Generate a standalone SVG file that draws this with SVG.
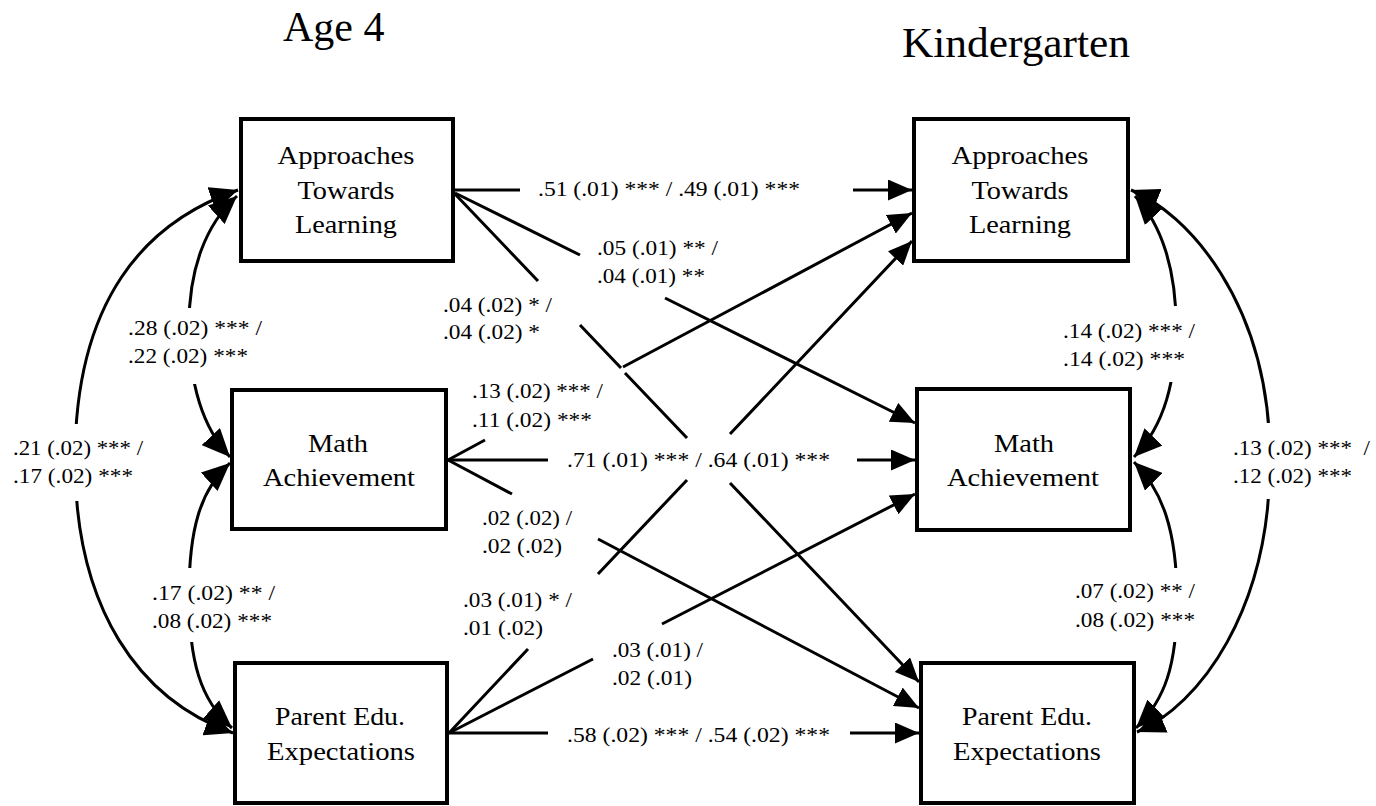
<svg xmlns="http://www.w3.org/2000/svg" width="1376" height="806" viewBox="0 0 1376 806">
  <style>
    .box { fill: #fff; stroke: #000; stroke-width: 4; }
    .name { font-family: "Liberation Serif", "Times New Roman", serif; font-size: 26px; fill: #000; text-anchor: middle; }
    .title { font-family: "Liberation Serif", "Times New Roman", serif; fill: #000; }
    .lbl { font-family: "Liberation Serif", "Times New Roman", serif; font-size: 21.5px; fill: #000; white-space: pre; }
    .path { fill: none; stroke: #000; stroke-width: 3; }
    .cov { fill: none; stroke: #000; stroke-width: 3; }
    .bg { fill: #fff; stroke: none; }
  </style>
  <defs>
    <marker id="head" markerUnits="userSpaceOnUse" viewBox="0 0 24 21" refX="24" refY="10.5" markerWidth="24" markerHeight="21" orient="auto">
      <path d="M0,0 L24,10.5 L0,21 Z" fill="#000"/>
    </marker>
    <marker id="headBig" markerUnits="userSpaceOnUse" viewBox="0 0 28 25" refX="28" refY="12.5" markerWidth="28" markerHeight="25" orient="auto-start-reverse">
      <path d="M0,0 L28,12.5 L0,25 Z" fill="#000"/>
    </marker>
  </defs>

  <rect width="1376" height="806" fill="#fff"/>

  <!-- column headings -->
  <text class="title" x="283" y="41" font-size="42">Age 4</text>
  <text class="title" x="902" y="57" font-size="43" textLength="228" lengthAdjust="spacingAndGlyphs">Kindergarten</text>

  <!-- connectors: regression paths (with label gaps) and covariance arcs -->
  <g id="connectors">
    <!-- Age 4 -> Kindergarten paths -->
    <path class="path" d="M455,190 L520,190 M853,190 L912,190" marker-end="url(#head)"/>
    <path class="path" d="M455,193 L580,255 M665,298 L915,423" marker-end="url(#head)"/>
    <path class="path" d="M455,194 L538,281 M580,325 L621,368 M625,373 L687,438 M730,483 L919,682" marker-end="url(#head)"/>
    <path class="path" d="M448,460 L485,440 M623,367 L912,213" marker-end="url(#head)"/>
    <path class="path" d="M448,460 L548,460 M857,460 L915,460" marker-end="url(#head)"/>
    <path class="path" d="M448,460 L512,494 M598,539 L919,708" marker-end="url(#head)"/>
    <path class="path" d="M449,733 L528,649 M598,574 L687,480 M730,434 L912,241" marker-end="url(#head)"/>
    <path class="path" d="M449,733 L593,659 M662,624 L915,494" marker-end="url(#head)"/>
    <path class="path" d="M449,733 L548,733 M850,733 L919,733" marker-end="url(#head)"/>

    <!-- within-wave covariances -->
    <path class="cov" d="M237,196 C205,225 189,270 189,325 C189,380 200,425 230,457" marker-start="url(#headBig)" marker-end="url(#headBig)"/>
    <path class="cov" d="M238,190 C145,222 75,300 75,460 C75,610 140,700 233,733" marker-start="url(#headBig)" marker-end="url(#headBig)"/>
    <path class="cov" d="M230,463 C200,490 189,530 189,595 C189,660 200,700 232,728" marker-start="url(#headBig)" marker-end="url(#headBig)"/>
    <path class="cov" d="M1135,196 C1162,225 1176,270 1176,325 C1176,380 1165,425 1134,457" marker-start="url(#headBig)" marker-end="url(#headBig)"/>
    <path class="cov" d="M1131,190 C1185,212 1270,300 1270,460 C1270,610 1200,705 1137,732" marker-start="url(#headBig)" marker-end="url(#headBig)"/>
    <path class="cov" d="M1134,462 C1162,490 1177,530 1177,600 C1177,665 1165,700 1136,728" marker-start="url(#headBig)" marker-end="url(#headBig)"/>
  </g>

  <!-- coefficient labels -->
  <g id="labels">
    <text class="lbl" x="538" y="196" textLength="262" lengthAdjust="spacingAndGlyphs">.51 (.01) *** / .49 (.01) ***</text>
    <text class="lbl" x="597" y="255" textLength="121" lengthAdjust="spacingAndGlyphs">.05 (.01) ** /</text>
    <text class="lbl" x="597" y="283" textLength="108" lengthAdjust="spacingAndGlyphs">.04 (.01) **</text>
    <text class="lbl" x="443" y="312" textLength="109" lengthAdjust="spacingAndGlyphs">.04 (.02) * /</text>
    <text class="lbl" x="443" y="339" textLength="97" lengthAdjust="spacingAndGlyphs">.04 (.02) *</text>
    <text class="lbl" x="472" y="398" textLength="131" lengthAdjust="spacingAndGlyphs">.13 (.02) *** /</text>
    <text class="lbl" x="472" y="427" textLength="120" lengthAdjust="spacingAndGlyphs">.11 (.02) ***</text>
    <text class="lbl" x="567" y="467" textLength="263" lengthAdjust="spacingAndGlyphs">.71 (.01) *** / .64 (.01) ***</text>
    <text class="lbl" x="482" y="525" textLength="90" lengthAdjust="spacingAndGlyphs">.02 (.02) /</text>
    <text class="lbl" x="482" y="553" textLength="80" lengthAdjust="spacingAndGlyphs">.02 (.02)</text>
    <text class="lbl" x="463" y="607" textLength="109" lengthAdjust="spacingAndGlyphs">.03 (.01) * /</text>
    <text class="lbl" x="463" y="635" textLength="80" lengthAdjust="spacingAndGlyphs">.01 (.02)</text>
    <text class="lbl" x="612" y="657" textLength="91" lengthAdjust="spacingAndGlyphs">.03 (.01) /</text>
    <text class="lbl" x="612" y="685" textLength="80" lengthAdjust="spacingAndGlyphs">.02 (.01)</text>
    <text class="lbl" x="567" y="742" textLength="263" lengthAdjust="spacingAndGlyphs">.58 (.02) *** / .54 (.02) ***</text>

    <rect class="bg" x="124" y="308" width="142" height="76"/>
    <text class="lbl" x="128" y="335" textLength="134" lengthAdjust="spacingAndGlyphs">.28 (.02) *** /</text>
    <text class="lbl" x="128" y="363" textLength="120" lengthAdjust="spacingAndGlyphs">.22 (.02) ***</text>

    <rect class="bg" x="9" y="424" width="138" height="77"/>
    <text class="lbl" x="13" y="455" textLength="130" lengthAdjust="spacingAndGlyphs">.21 (.02) *** /</text>
    <text class="lbl" x="13" y="483" textLength="120" lengthAdjust="spacingAndGlyphs">.17 (.02) ***</text>

    <rect class="bg" x="148" y="568" width="131" height="74"/>
    <text class="lbl" x="152" y="600" textLength="123" lengthAdjust="spacingAndGlyphs">.17 (.02) ** /</text>
    <text class="lbl" x="152" y="628" textLength="120" lengthAdjust="spacingAndGlyphs">.08 (.02) ***</text>

    <rect class="bg" x="1059" y="306" width="140" height="76"/>
    <text class="lbl" x="1063" y="338" textLength="132" lengthAdjust="spacingAndGlyphs">.14 (.02) *** /</text>
    <text class="lbl" x="1063" y="366" textLength="122" lengthAdjust="spacingAndGlyphs">.14 (.02) ***</text>

    <rect class="bg" x="1229" y="423" width="144" height="76"/>
    <text class="lbl" x="1233" y="455" textLength="137" lengthAdjust="spacingAndGlyphs">.13 (.02) ***  /</text>
    <text class="lbl" x="1233" y="483" textLength="119" lengthAdjust="spacingAndGlyphs">.12 (.02) ***</text>

    <rect class="bg" x="1071" y="568" width="128" height="74"/>
    <text class="lbl" x="1075" y="598" textLength="120" lengthAdjust="spacingAndGlyphs">.07 (.02) ** /</text>
    <text class="lbl" x="1075" y="627" textLength="120" lengthAdjust="spacingAndGlyphs">.08 (.02) ***</text>
  </g>

  <!-- Age 4 nodes -->
  <g id="atl-age4">
    <rect class="box" x="241" y="119" width="212" height="142"/>
    <text class="name" x="346" y="164" textLength="137" lengthAdjust="spacingAndGlyphs">Approaches</text>
    <text class="name" x="346" y="199" textLength="97" lengthAdjust="spacingAndGlyphs">Towards</text>
    <text class="name" x="346" y="233" textLength="102" lengthAdjust="spacingAndGlyphs">Learning</text>
  </g>
  <g id="math-age4">
    <rect class="box" x="232" y="390" width="214" height="139"/>
    <text class="name" x="338" y="452" textLength="60" lengthAdjust="spacingAndGlyphs">Math</text>
    <text class="name" x="339" y="486" textLength="152" lengthAdjust="spacingAndGlyphs">Achievement</text>
  </g>
  <g id="pee-age4">
    <rect class="box" x="235" y="663" width="212" height="140"/>
    <text class="name" x="340" y="725" textLength="130" lengthAdjust="spacingAndGlyphs">Parent Edu.</text>
    <text class="name" x="341" y="760" textLength="148" lengthAdjust="spacingAndGlyphs">Expectations</text>
  </g>

  <!-- Kindergarten nodes -->
  <g id="atl-k">
    <rect class="box" x="914" y="119" width="214" height="142"/>
    <text class="name" x="1020" y="164" textLength="137" lengthAdjust="spacingAndGlyphs">Approaches</text>
    <text class="name" x="1020" y="199" textLength="97" lengthAdjust="spacingAndGlyphs">Towards</text>
    <text class="name" x="1020" y="233" textLength="102" lengthAdjust="spacingAndGlyphs">Learning</text>
  </g>
  <g id="math-k">
    <rect class="box" x="917" y="389" width="213" height="141"/>
    <text class="name" x="1024" y="452" textLength="60" lengthAdjust="spacingAndGlyphs">Math</text>
    <text class="name" x="1023" y="486" textLength="152" lengthAdjust="spacingAndGlyphs">Achievement</text>
  </g>
  <g id="pee-k">
    <rect class="box" x="921" y="663" width="213" height="140"/>
    <text class="name" x="1027" y="725" textLength="130" lengthAdjust="spacingAndGlyphs">Parent Edu.</text>
    <text class="name" x="1027" y="760" textLength="148" lengthAdjust="spacingAndGlyphs">Expectations</text>
  </g>
</svg>
